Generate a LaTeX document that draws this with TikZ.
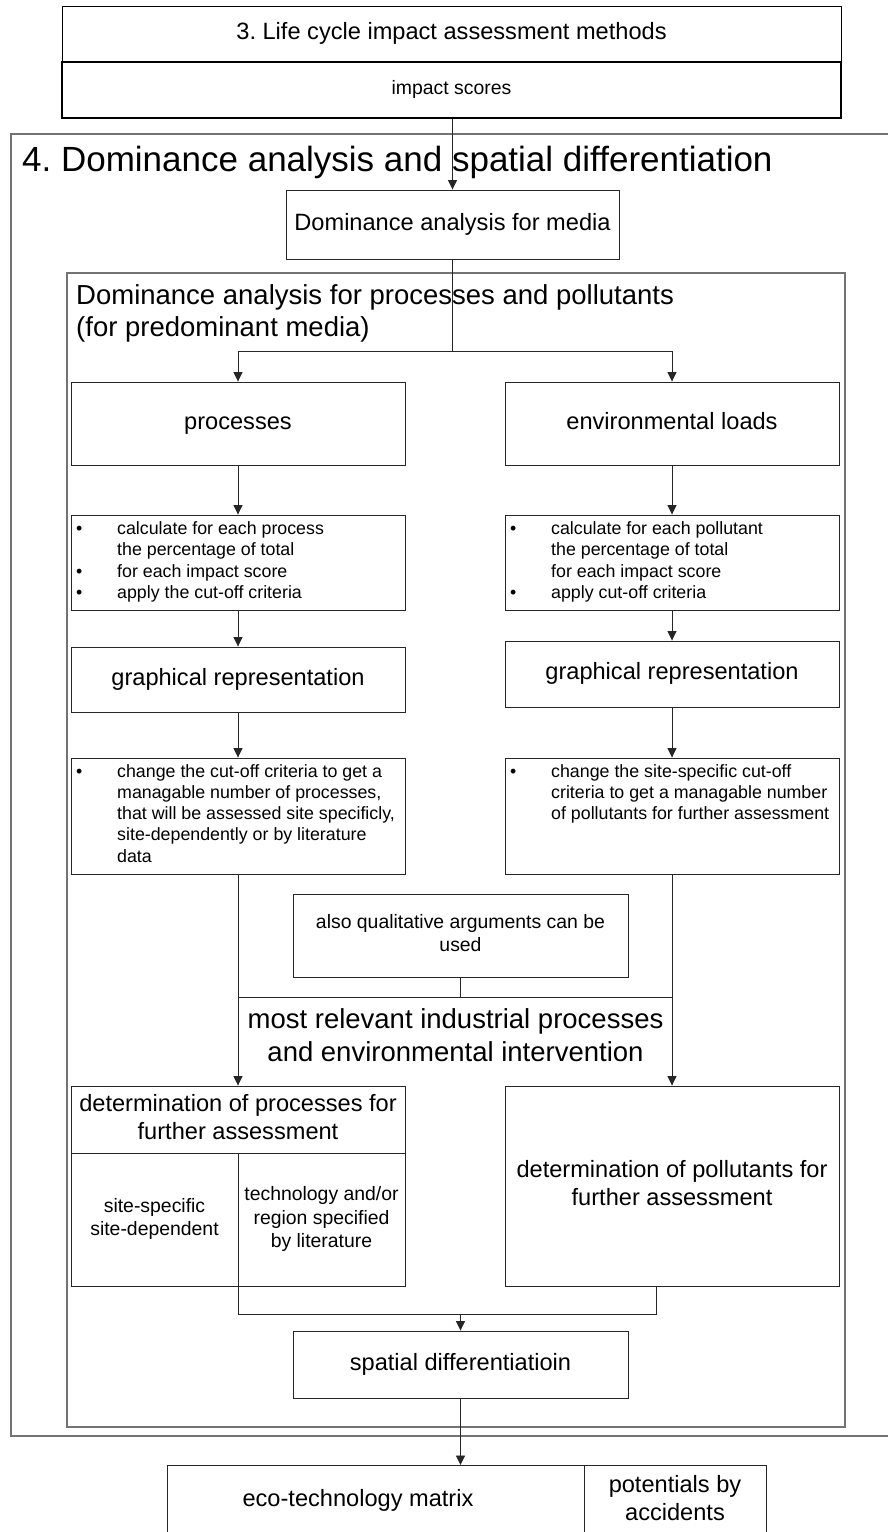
\documentclass[tikz,border=0pt]{standalone}
\usepackage{fontspec}
\setmainfont{Liberation Sans}
\usetikzlibrary{arrows.meta}
\frenchspacing

% font sizes used in the chart
\newcommand{\fTitle}{\fontsize{35}{42}\selectfont}
\newcommand{\fBig}{\fontsize{27.5}{32.5}\selectfont}
\newcommand{\fMain}{\fontsize{23.6}{28}\selectfont}
\newcommand{\fSmall}{\fontsize{19.4}{23.5}\selectfont}
\newcommand{\fBul}{\fontsize{17.8}{21.3}\selectfont}

% multi-line text blocks, baseline at the first line
\newcommand{\ctab}[1]{\begin{tabular}[t]{@{}c@{}}#1\end{tabular}}
\newcommand{\lblock}[1]{\begin{tabular}[t]{@{}l@{}}#1\end{tabular}}
\newcommand{\bullist}[1]{\begin{tabular}[t]{@{}p{41pt}@{}l@{}}#1\end{tabular}}

\begin{document}
\begin{tikzpicture}[x=1pt,y=-1pt,
  box/.style={draw=black!85, line width=0.9pt, inner sep=0pt, fill=white,
              execute at begin node={\strut}},
  frame/.style={draw=black!55, line width=1.3pt},
  arr/.style={-{Triangle[length=9.5pt,width=9pt]}, line width=0.9pt, draw=black!85},
  con/.style={line width=0.9pt, draw=black!85},
  txt/.style={inner sep=0pt}]
\useasboundingbox (0,0) rectangle (888,1532);

% ---- step 3 ----
\node[box, draw=black, line width=1pt, minimum width=779pt, minimum height=56pt, font=\fMain]
  (lcia) at (451.5,34) {3. Life cycle impact assessment methods};
\node[box, draw=black, line width=2pt, minimum width=779pt, minimum height=56pt, font=\fSmall]
  (imp) at (451.5,90) {impact scores};

% ---- step 4: outer frame ----
\draw[frame] (888,134) -- (11,134) -- (11,1436) -- (888,1436);
\node[txt, anchor=base west, font=\fTitle] (title) at (22,171)
  {4. Dominance analysis and spatial differentiation};

\node[box, minimum width=333pt, minimum height=69pt, font=\fMain]
  (media) at (452.5,224.5) {Dominance analysis for media};
\draw[arr] (imp.south -| media.north) -- (media.north);

% inner frame
\node[frame, minimum width=778pt, minimum height=1154pt, inner sep=0pt] (inner) at (456,850) {};
\node[txt, anchor=base west, font=\fBig] (subtitle) at (76,304)
  {\lblock{Dominance analysis for processes and pollutants\\(for predominant media)}};

% two columns
\node[box, minimum width=334pt, minimum height=83pt, font=\fMain] (proc) at (238,423.5) {processes};
\node[box, minimum width=334pt, minimum height=83pt, font=\fMain] (env) at (672,423.5) {environmental loads};

\coordinate (j1) at (452.5,351);
\draw[con] (media.south) -- (j1);
\draw[arr] (j1) -| (proc.north);
\draw[arr] (j1) -| (env.north);

\node[box, minimum width=334pt, minimum height=95pt] (bulL) at (238,562.5) {};
\node[box, minimum width=334pt, minimum height=95pt] (bulR) at (672,562.5) {};
\node[txt, anchor=base west, font=\fBul] (bulLt) at (76,534.5)
  {\bullist{\textbullet & calculate for each process\\
            & the percentage of total\\
            \textbullet & for each impact score\\
            \textbullet & apply the cut-off criteria}};
\node[txt, anchor=base west, font=\fBul] (bulRt) at (510,534.5)
  {\bullist{\textbullet & calculate for each pollutant\\
            & the percentage of total\\
            & for each impact score\\
            \textbullet & apply cut-off criteria}};
\draw[arr] (proc) -- (bulL);
\draw[arr] (env) -- (bulR);

\node[box, minimum width=334pt, minimum height=65pt, font=\fMain] (grL) at (238,679.5) {graphical representation};
\node[box, minimum width=334pt, minimum height=66pt, font=\fMain] (grR) at (672,674) {graphical representation};
\draw[arr] (bulL) -- (grL);
\draw[arr] (bulR) -- (grR);

\node[box, minimum width=334pt, minimum height=116pt] (chL) at (238,816) {};
\node[box, minimum width=334pt, minimum height=116pt] (chR) at (672,816) {};
\node[txt, anchor=base west, font=\fBul] (chLt) at (76,777)
  {\bullist{\textbullet & change the cut-off criteria to get a\\
            & managable number of processes,\\
            & that will be assessed site specificly,\\
            & site-dependently or by literature\\
            & data}};
\node[txt, anchor=base west, font=\fBul] (chRt) at (510,777)
  {\bullist{\textbullet & change the site-specific cut-off\\
            & criteria to get a managable number\\
            & of pollutants for further assessment}};
\draw[arr] (grL) -- (chL);
\draw[arr] (grR) -- (chR);

\node[box, minimum width=335pt, minimum height=83pt, font=\fSmall] (qual) at (460.5,935.5)
  {\ctab{also qualitative arguments can be\\used}};

% determination boxes
\node[box, minimum width=334pt, minimum height=67pt, font=\fMain] (detH) at (238,1119.5)
  {\ctab{determination of processes for\\further assessment}};
\node[box, minimum width=167pt, minimum height=133pt, font=\fSmall] (siteC) at (154.5,1219.5)
  {\ctab{site-specific\\site-dependent}};
\node[box, minimum width=167pt, minimum height=133pt, font=\fSmall] (techC) at (321.5,1219.5)
  {\ctab{technology and/or\\region specified\\by literature}};
\node[box, minimum width=334pt, minimum height=200pt, font=\fMain] (detR) at (672,1186)
  {\ctab{determination of pollutants for\\further assessment}};

\coordinate (j2) at (460.5,997);
\draw[con] (qual) -- (j2);
\draw[con] (chL.south |- j2) -- (chR.south |- j2);
\draw[arr] (chL) -- (detH);
\draw[arr] (chR) -- (detR);
\node[txt, font=\fBig] (mrel) at (455.5,1038.5)
  {\ctab{most relevant industrial processes\\and environmental intervention}};

% spatial differentiation
\node[box, minimum width=335pt, minimum height=67pt, font=\fMain] (spat) at (460.5,1364.5)
  {spatial differentiatioin};
\coordinate (j3) at (460.5,1314);
\coordinate (rb) at (656,1286);
\draw[con] (siteC.south east) |- (rb |- j3) -- (rb);
\draw[arr] (j3) -- (spat);

% results
\node[box, minimum width=589pt, minimum height=80pt, anchor=north west] (eco) at (167,1465) {};
\node[box, minimum width=182pt, minimum height=80pt, anchor=north west] (acc) at (584,1465) {};
\node[txt, font=\fMain] (ecot) at (358,1500) {eco-technology matrix};
\node[txt, font=\fMain] (acct) at (675,1501) {\ctab{potentials by\\accidents}};
\draw[arr] (spat.south) -- (spat.south |- eco.north);
\end{tikzpicture}
\end{document}
